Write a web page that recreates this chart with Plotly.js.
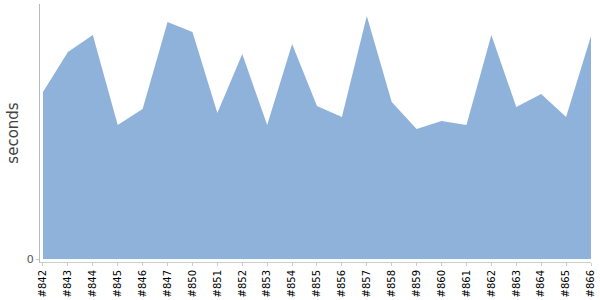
<!DOCTYPE html>
<html><head><meta charset="utf-8">
<script src="https://cdn.plot.ly/plotly-3.0.1.min.js"></script>
<style>html,body{margin:0;padding:0;background:#fff}#c{width:600px;height:300px}</style>
</head><body><div id="c"></div>
<script>
const builds = ["#842","#843","#844","#845","#846","#847","#850","#851","#852","#853","#854","#855","#856","#857","#858","#859","#860","#861","#862","#863","#864","#865","#866"];
const seconds = [167,207,224,134,150,237,227,146,205,134,215,153,142,243,157,130,138,134,224,152,165,142,223];

Plotly.newPlot('c', [{
  x: builds, y: seconds, type: 'scatter', mode: 'lines',
  fill: 'tozeroy', fillcolor: 'rgb(143,178,218)',
  line: {width: 0, color: 'rgb(143,178,218)'}, hoverinfo: 'none'
}], {
  width: 600, height: 300,
  margin: {l: 40, r: 9, t: 4, b: 38},
  showlegend: false,
  paper_bgcolor: '#fff', plot_bgcolor: '#fff',
  font: {family: 'DejaVu Sans, sans-serif'},
  xaxis: {
    type: 'category', range: [-0.12, 22], showgrid: false, zeroline: false,
    showline: true, linecolor: '#ccc', linewidth: 1,
    ticks: 'outside', ticklen: 3, tickcolor: '#ccc',
    tickangle: -90, tickfont: {size: 10, color: '#000'}
  },
  yaxis: {
    range: [-3, 255], showgrid: false, zeroline: false, automargin: true,
    showline: true, linecolor: '#bbb', linewidth: 1,
    tickvals: [0], ticktext: ['0'], ticks: 'outside', ticklen: 3, tickcolor: '#ccc',
    tickfont: {size: 11, color: '#555'},
    title: {text: 'seconds', font: {size: 15, color: '#444'}, standoff: 4}
  }
}, {staticPlot: true, displayModeBar: false});
</script></body></html>
